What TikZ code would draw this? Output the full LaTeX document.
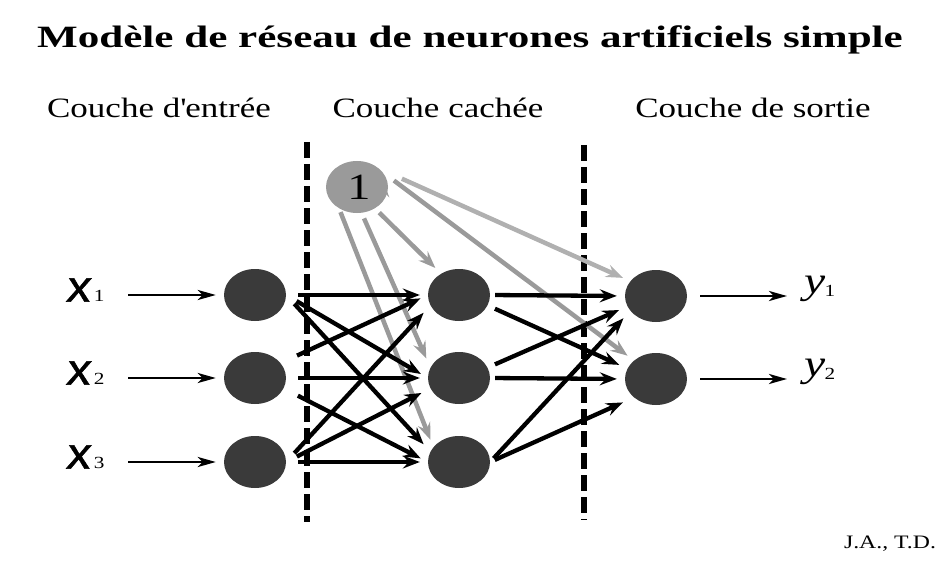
\documentclass[tikz,border=0pt]{standalone}
\usepackage{fontspec}
\setmainfont{Liberation Serif}[FakeStretch=1.25]
\newfontfamily\titlefont{Liberation Serif}[FakeStretch=1.39]
\newfontfamily\sansx{Liberation Sans}[FakeStretch=1.1,FakeSlant=0.12,FakeBold=1.2]
\usetikzlibrary{shapes.geometric,arrows.meta}

\definecolor{neurongray}{HTML}{3A3A3A}
\definecolor{biasgray}{HTML}{9A9A9A}
\definecolor{lightbias}{HTML}{B0B0B0}

\newcommand{\xin}[1]{{\sansx\fontsize{44}{44}\selectfont x}\kern4pt{\fontsize{17}{17}\selectfont #1}}
\newcommand{\yout}[1]{{\itshape\fontsize{38}{38}\selectfont y}\kern-1pt\raisebox{-3pt}{\fontsize{17}{17}\selectfont #1}}

\begin{document}
\begin{tikzpicture}[x=1pt,y=-1pt,
        neuron/.style={ellipse,fill=neurongray,minimum width=62pt,minimum height=52pt,inner sep=0pt},
        bias/.style={neuron,fill=biasgray,font=\fontsize{37}{37}\selectfont},
        syn/.style={-{Stealth[length=17pt,width=13pt,inset=6pt]},line width=4.3pt,shorten <=12pt,shorten >=8pt},
        biassyn/.style={syn,draw=biasgray,line width=4.5pt,shorten <=6pt,shorten >=8pt},
        io/.style={-{Stealth[length=18pt,width=10pt,inset=5pt]},line width=2.8pt},
        layer/.style={font=\fontsize{28}{28}\selectfont},
        sep/.style={line width=6pt,dash pattern=on 16pt off 6pt}]
    \useasboundingbox (0,0) rectangle (940,567);

    % titles
    \node (title) at (470,40) {\titlefont\fontsize{31}{31}\selectfont\bfseries Mod\`ele de r\'eseau de neurones artificiels simple};
    \node[layer] (lin)  at (159,108) {Couche d\textquotesingle entr\'ee};
    \node[layer] (lhid) at (438,108) {Couche cach\'ee};
    \node[layer] (lout) at (753,108) {Couche de sortie};
    \node (sign) at (890,544) {\fontsize{19}{19}\selectfont J.A., T.D.};

    % separators
    \coordinate (sepatop) at (307,142);
    \coordinate (sepabot) at (307,522);
    \coordinate (sepbtop) at (584,145);
    \coordinate (sepbbot) at (584,520);
    \draw[sep] (sepatop) -- (sepabot);
    \draw[sep] (sepbtop) -- (sepbbot);

    % neurons
    \node[neuron] (I1) at (255,295) {};
    \node[neuron] (I2) at (255,378) {};
    \node[neuron] (I3) at (255,462) {};
    \node[neuron] (H1) at (459,295) {};
    \node[neuron] (H2) at (459,378) {};
    \node[neuron] (H3) at (459,462) {};
    \node[neuron] (O1) at (656,296) {};
    \node[neuron] (O2) at (656,379) {};
    \node[bias]   (B)  at (357,187) {\kern4pt 1};

    % inputs and outputs
    \node (x1) at (85,290) {\xin{1}};
    \node (x2) at (85,373) {\xin{2}};
    \node (x3) at (85,457) {\xin{3}};
    \node (y1) at (820,289) {\yout{1}};
    \node (y2) at (820,372) {\yout{2}};
    \coordinate (in1) at (128,295);
    \coordinate (in2) at (128,378);
    \coordinate (in3) at (128,462);
    \coordinate (out1) at (787,296);
    \coordinate (out2) at (787,379);
    \path[io]
        (in1) edge[shorten >=8pt] (I1.west)
        (in2) edge[shorten >=8pt] (I2.west)
        (in3) edge[shorten >=8pt] (I3.west)
        (O1.east) edge[shorten <=13pt] (out1)
        (O2.east) edge[shorten <=13pt] (out2);

    % bias weights
    \path[biassyn]
        (B.-50) edge (H1.130)
        (B.-80) edge[shorten >=10pt] (H2.160)
        (B.-130) edge[shorten <=4pt] (H3.150)
        (B.north east) edge[draw=lightbias,shorten <=25pt] (O1.150)
        (B.30) edge[shorten <=14pt] (O2.north west);

    % input -> hidden
    \path[syn]
        (I1.east) edge (H1.west)
                  edge (H2.west)
                  edge[shorten >=10pt] (H3.160)
        (I2.30)   edge[shorten <=18pt] (H1.west)
        (I2.east) edge (H2.west)
        (I2.-20)  edge[shorten <=16pt] (H3.west)
        (I3.east) edge[shorten >=10pt] (H1.200)
                  edge[shorten >=10pt] (H2.200)
                  edge (H3.west);

    % hidden -> output
    \path[syn]
        (H1.east) edge[shorten <=5pt] (O1.west)
        (H1.-20)  edge[shorten <=8pt,shorten >=9pt] (O2.160)
        (H2.20)   edge[shorten <=8pt,shorten >=9pt] (O1.200)
        (H2.east) edge[shorten <=5pt] (O2.west)
        (H3.east) edge[shorten <=5pt,shorten >=10pt] (O1.210)
                  edge[shorten <=5pt,shorten >=12pt] (O2.220);
\end{tikzpicture}
\end{document}
